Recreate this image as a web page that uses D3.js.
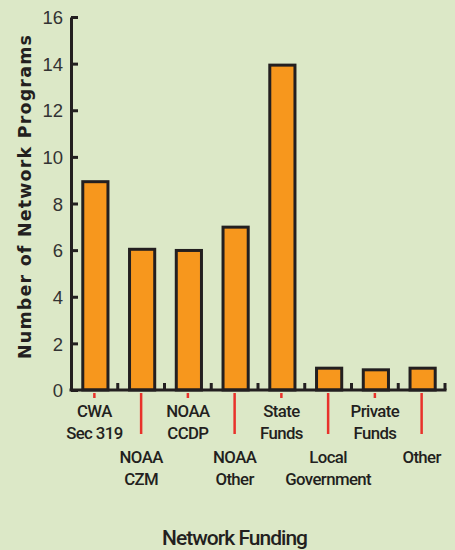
<!DOCTYPE html>
<html><head><meta charset="utf-8">
<script src="https://cdn.jsdelivr.net/npm/d3@7"></script>
<style>
html,body{margin:0;padding:0;background:#dce8c7;}
svg{display:block;}
</style></head>
<body>
<script>
const categories = ["CWA Sec 319","NOAA CZM","NOAA CCDP","NOAA Other","State Funds","Local Government","Private Funds","Other"];
const labelLines = [["CWA","Sec 319"],["NOAA","CZM"],["NOAA","CCDP"],["NOAA","Other"],["State","Funds"],["Local","Government"],["Private","Funds"],["Other"]];
const values = [9, 6.1, 6.05, 7.05, 14, 1, 0.93, 1];
const yTicks = [0,2,4,6,8,10,12,14,16];
const yTitle = "Number of Network Programs";
const xTitle = "Network Funding";

const W = 455, H = 550;
const svg = d3.select("body").append("svg").attr("width", W).attr("height", H);
svg.append("rect").attr("width", W).attr("height", H).attr("fill", "#dce8c7");

const x = d3.scaleBand().domain(categories).range([71, 445]).paddingInner(0.44).paddingOuter(0.22);
const y = d3.scaleLinear().domain([0, 16]).range([390, 17]);
const step = x.step(), bw = x.bandwidth();
const dark = "#231f20";

// bars
svg.selectAll("rect.bar").data(categories).join("rect").attr("class","bar")
  .attr("x", d => x(d) + 1.5)
  .attr("width", bw - 1)
  .attr("y", (d,i) => y(values[i]) + 1.5)
  .attr("height", (d,i) => y(0) - y(values[i]) - 1.5)
  .attr("fill", "#f7971d").attr("stroke", dark).attr("stroke-width", 3);

// y axis
const yAxis = d3.axisLeft(y).tickValues(yTicks).tickSizeInner(-7).tickSizeOuter(0).tickPadding(8).tickFormat(d3.format("d"));
const gy = svg.append("g").attr("transform", "translate(71,0)").call(yAxis);
gy.attr("font-size", null).attr("font-family", null);
gy.select(".domain").attr("stroke", dark).attr("stroke-width", 3);
gy.selectAll(".tick line").attr("stroke", dark).attr("stroke-width", 3);
gy.selectAll(".tick text").attr("fill", "#333").attr("dy", "0.36em")
  .style("font-family", "'Liberation Sans', Arial, sans-serif").style("font-size", "18.5px");

// x axis baseline
const x0 = x.range()[0], x1 = x.range()[1];
svg.append("line").attr("x1", x0 - 1.5).attr("x2", x1 + 1.5).attr("y1", y(0)).attr("y2", y(0))
  .attr("stroke", dark).attr("stroke-width", 3);
// boundary ticks
const bounds = categories.map((d,i) => x0 + (i+1)*step);
svg.selectAll("line.bt").data(bounds).join("line").attr("class","bt")
  .attr("x1", d => d).attr("x2", d => d).attr("y1", y(0)).attr("y2", y(0) - 7)
  .attr("stroke", dark).attr("stroke-width", 3);

// red leader lines
svg.selectAll("line.red").data(categories).join("line").attr("class","red")
  .attr("x1", d => x(d) + bw/2).attr("x2", d => x(d) + bw/2)
  .attr("y1", y(0) + 3).attr("y2", (d,i) => y(0) + (i % 2 === 0 ? 8 : 44))
  .attr("stroke", "#e8322b").attr("stroke-width", 2.5);

// category labels
const lab = svg.selectAll("g.lab").data(categories).join("g").attr("class","lab")
  .attr("transform", (d,i) => `translate(${x(d) + bw/2},${i % 2 === 0 ? 417 : 463})`);
lab.each(function(d,i){
  d3.select(this).selectAll("text").data(labelLines[i]).join("text")
    .attr("y", (t,j) => j*22)
    .attr("text-anchor", "middle")
    .attr("fill", dark)
    .style("font-family", "Roboto, sans-serif")
    .style("font-weight", "500")
    .style("letter-spacing", "-0.6px")
    .style("font-size", "16.8px")
    .text(t => t);
});

// axis titles
svg.append("text").attr("transform", "translate(31,197) rotate(-90)")
  .attr("text-anchor", "middle").attr("fill", dark)
  .attr("textLength", 324).attr("lengthAdjust", "spacing")
  .style("font-family", "'DejaVu Sans', sans-serif").style("font-weight", "bold").style("font-size", "17.5px")
  .text(yTitle);
svg.append("text").attr("x", 235).attr("y", 545).attr("text-anchor", "middle").attr("fill", dark)
  .attr("textLength", 146).attr("lengthAdjust", "spacing")
  .style("font-family", "Roboto, sans-serif").style("font-weight", "500").style("font-size", "21px")
  .text(xTitle);
</script>
</body></html>
